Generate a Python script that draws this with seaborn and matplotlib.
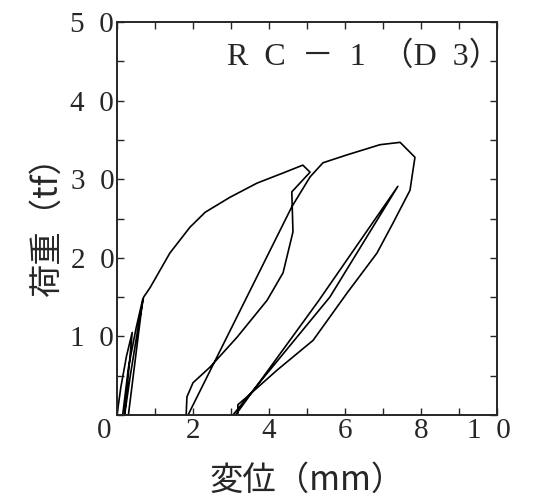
import matplotlib
matplotlib.use("Agg")
import matplotlib.pyplot as plt
import seaborn as sns
import pandas as pd
from matplotlib.ticker import MultipleLocator, FixedLocator, FixedFormatter
from matplotlib.transforms import ScaledTranslation

sns.set_style("ticks")
plt.rcParams['font.family'] = ['Liberation Serif', 'Noto Sans CJK JP', 'DejaVu Sans']

# Load-displacement path (mm, tf)
disp_mm = [0.00, 0.10, 0.25, 0.40, 0.20, 0.15, 0.30, 0.50, 0.68, 0.30, 0.20, 0.35, 0.55, 0.70,
           0.87, 1.13, 1.39, 1.92, 2.32, 2.97, 3.68, 4.37, 4.89, 5.08, 4.60, 4.63, 4.37,
           3.95, 3.16, 2.45, 2.00, 1.84, 1.82,
           1.87, 4.60, 5.08, 5.42, 6.05, 6.92, 7.45, 7.84, 7.79, 7.71, 7.26, 6.84, 6.05,
           5.16, 4.21, 3.42, 3.18, 3.18,
           3.12, 5.30, 7.39, 5.60, 3.05]
load_tf = [0.0, 3.5, 7.5, 10.5, 0.0, 0.0, 6.0, 11.0, 14.8, 0.0, 0.0, 5.0, 11.0, 15.0,
           16.2, 18.4, 20.6, 23.9, 25.8, 27.7, 29.5, 30.8, 31.8, 30.9, 28.4, 23.3, 18.1,
           14.6, 9.9, 6.1, 4.1, 2.3, 0.0,
           0.0, 26.5, 30.3, 32.1, 33.1, 34.4, 34.7, 32.8, 31.2, 28.6, 24.4, 20.6, 15.5,
           9.5, 5.7, 2.3, 1.3, 0.0,
           0.0, 14.5, 29.1, 15.0, 0.0]

SP = "\u2002"
x_ticks = [0, 2, 4, 6, 8, 10]
x_labels = ["0", "2", "4", "6", "8", "1" + SP + "0"]
y_ticks = [0, 10, 20, 30, 40, 50]
y_labels = ["", "1" + SP + "0", "2" + SP + "0", "3" + SP + "0", "4" + SP + "0", "5" + SP + "0"]

df = pd.DataFrame({"disp": disp_mm, "load": load_tf, "step": range(len(disp_mm))})

fig = plt.figure(figsize=(5.48, 5.03), dpi=100)
ax = fig.add_axes([0.2135, 0.175, 0.6935, 0.781])
sns.lineplot(data=df, x="disp", y="load", sort=False, estimator=None,
             color="black", linewidth=1.2, ax=ax)

ax.set_xlim(0, 10)
ax.set_ylim(0, 50)
ax.xaxis.set_major_locator(FixedLocator(x_ticks))
ax.xaxis.set_major_formatter(FixedFormatter(x_labels))
ax.yaxis.set_major_locator(FixedLocator(y_ticks))
ax.yaxis.set_major_formatter(FixedFormatter(y_labels))
ax.xaxis.set_minor_locator(MultipleLocator(1))
ax.yaxis.set_minor_locator(MultipleLocator(5))
ax.tick_params(which="both", direction="in", top=True, right=True, length=5,
               width=1, labelsize=21, pad=2)
for s in ax.spines.values():
    s.set_linewidth(1.4)

# shift the shared origin label and the last label slightly, as in the reference
fig.canvas.draw()
xtl = ax.get_xticklabels()
xtl[0].set_transform(xtl[0].get_transform() + ScaledTranslation(-0.13, 0, fig.dpi_scale_trans))
xtl[-1].set_transform(xtl[-1].get_transform() + ScaledTranslation(-0.08, 0, fig.dpi_scale_trans))

ax.set_xlabel("変位（mm）", fontsize=24, family=['Noto Sans CJK JP'], labelpad=14)
ax.set_ylabel("荷重（tf）", fontsize=24, family=['Noto Sans CJK JP'], labelpad=4)
title = "R" + SP + "C" + SP + "－" + SP + "1" + SP + "（D" + SP + "3）"
ax.text(1.01, 0.95, title, transform=ax.transAxes, ha="right", va="top",
        fontsize=23, family=['Liberation Serif', 'Noto Sans CJK JP'])

fig.savefig("out.png", dpi=100)
